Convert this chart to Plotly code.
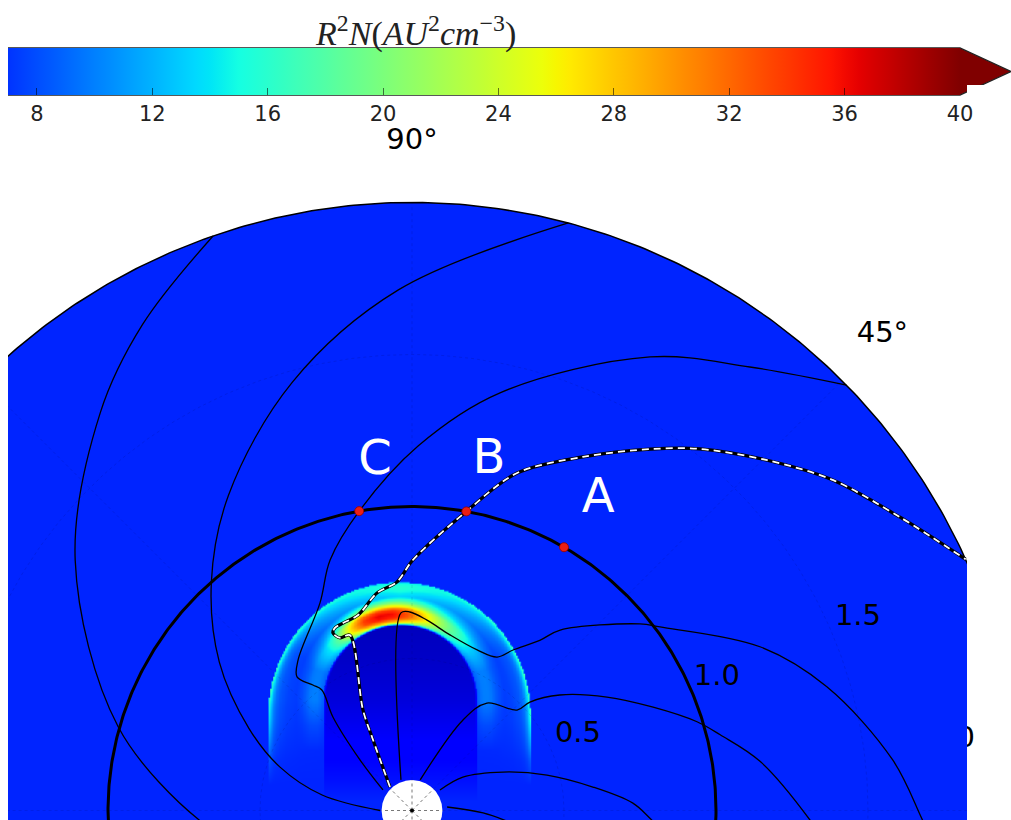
import numpy as np
import plotly.graph_objects as go

# ------------------------------------------------------------------ data
JET_VMAX = 40.0                      # jet colour map spans 0 .. 40
CB_RANGE = [7, 40]                   # visible part of the colour bar
CB_TICKS = [8, 12, 16, 20, 24, 28, 32, 36, 40]
CB_TITLE = "<i>R</i><sup>2</sup><i>N</i>(<i>AU</i><sup>2</sup><i>cm</i><sup>\u22123</sup>)"

AMBIENT_VALUE = 6.4                  # solar wind level filling the 2 AU disk
R_OUTER = 2.0
R_SUN = 0.1
R_ORBIT = 1.0

# magnetic field lines: heliocentric distance (AU) and longitude (deg)
L1_r   = [0.62, 0.70, 1.005, 1.38, 1.662, 1.828, 2.0]
L1_phi = [187.0, 182.6, 164.1, 143.4, 128.1, 119.0, 109.1]
L2_r   = [0.105, 0.30, 0.457, 0.60, 0.80, 1.0, 1.2, 1.463, 1.713, 2.0]
L2_phi = [180.0, 170.2, 161.8, 153.3, 142.4, 131.3, 120.2, 105.6, 91.5, 75.1]
LC_r   = [0.117, 0.238, 0.403, 0.495, 0.526, 0.58, 0.621, 0.747, 0.867, 1.0, 1.2, 1.404, 1.685, 1.834, 2.0]
LC_phi = [144.7, 135.8, 130.2, 126.8, 128.3, 130.7, 127.1, 113.9, 108.1, 100.0, 89.0, 78.1, 62.3, 52.7, 44.4]
R1_r   = [0.107, 0.651, 0.653, 0.628, 0.591, 0.57, 0.577, 0.624, 0.70, 0.768, 0.969, 1.015, 1.265, 1.424, 1.59, 1.68, 1.76]
R1_phi = [109.8, 93.2, 90.6, 85.5, 77.8, 67.9, 61.0, 57.8, 53.1, 50.6, 39.3, 36.5, 25.2, 16.6, 6.0, -1.1, -6.0]
R2_r   = [0.104, 0.342, 0.431, 0.478, 0.527, 0.617, 0.742, 0.863, 0.982, 1.044, 1.157, 1.31, 1.42]
R2_phi = [75.0, 60.6, 55.1, 43.7, 42.6, 38.0, 30.2, 23.2, 17.3, 13.8, 8.0, -1.4, -7.5]
R3_r   = [0.114, 0.20, 0.325, 0.459, 0.60, 0.727, 0.79, 0.90]
R3_phi = [36.2, 33.3, 22.9, 14.7, 7.4, 1.9, -2.3, -8.0]
R4_r   = [0.116, 0.234, 0.35]
R4_phi = [5.7, -2.0, -8.0]
SOLID_LINES = [(L1_r, L1_phi), (L2_r, L2_phi), (LC_r, LC_phi), (R1_r, R1_phi),
               (R2_r, R2_phi), (R3_r, R3_phi), (R4_r, R4_phi)]

# field line through B (white/black dashed)
LB_r   = [0.106, 0.265, 0.368, 0.612, 0.615, 0.639, 0.652, 0.657, 0.667, 0.725, 0.753, 0.824,
          1.0, 1.163, 1.292, 1.424, 1.52, 1.641, 1.761, 1.873, 2.0]
LB_phi = [133.1, 118.9, 116.0, 109.5, 112.6, 114.0, 112.9, 110.2, 105.4, 99.1, 93.8, 89.8,
          79.7, 72.7, 64.2, 56.6, 51.5, 44.6, 38.1, 31.0, 24.4]

# observers on the 1 AU circle
OBS_names = ["A", "B", "C"]
OBS_r     = [1.0, 1.0, 1.0]
OBS_phi   = [60.0, 79.7, 100.0]
OBS_lab_x = [0.612, 0.253, -0.122]
OBS_lab_y = [1.021, 1.150, 1.146]

# CME density structure (distances in AU, values in AU^2 cm^-3)
CME_SHELL_C, CME_SHELL_R = (-0.0428, 0.3207), 0.431        # outer front (dome + legs)
CME_CAV_C, CME_CAV_R = (-0.0395, 0.3635), 0.253            # rarefied cavity
SHELL_FLANK_D = [0.0, 0.006, 0.013, 0.022, 0.035, 0.06, 0.11, 0.20]
SHELL_FLANK_V = [17.5, 14.5, 11.5, 9.5, 8.4, 7.6, 7.1, 6.9]
SHELL_TOP_D   = [0.0, 0.008, 0.020, 0.035, 0.055, 0.09]
SHELL_TOP_V   = [13.5, 15.5, 16.0, 14.5, 12.5, 10.0]
TOP_WEIGHT_ANG = [0, 35, 60]           # deg from apex
TOP_WEIGHT     = [1.0, 0.5, 0.0]
LEG_FADE_Y = [0.084, 0.166, 0.232, 0.298, 0.3635]
LEG_FADE   = [0.0, 0.2, 0.5, 0.8, 1.0]
RING_FADE_Y = [0.199, 0.281, 0.3635]
RING_FADE   = [0.0, 0.35, 1.0]
CAV_Y = [0.0345, 0.100, 0.232, 0.3635, 0.495, 0.617]
CAV_V = [6.4, 5.6, 4.4, 3.2, 2.5, 2.1]
NOSE_E   = [-0.0066, 0.0, 0.0099, 0.0197, 0.0329, 0.046, 0.0559, 0.0691, 0.0888]
NOSE_REL = [0.0, 0.55, 0.8, 0.97, 1.0, 0.9, 0.65, 0.35, 0.0]
NOSE_ANG  = [-90, -70, -55, -45, -35, -25, -15, -5, 5, 15, 25, 35, 45, 55, 70, 90]
NOSE_PEAK = [10.0, 10.0, 14, 19, 27, 34, 36.5, 36, 33, 28, 23, 19, 16, 13, 10.0, 10.0]
CME_BOX_X = [-0.52, 0.44]
CME_BOX_Y = [0.03, 0.79]

# axis annotations
ANG_lab   = ["90\u00b0", "45\u00b0"]
ANG_r     = [2.2, 2.2]
ANG_phi   = [90.0, 45.3]
RAD_lab   = ["0.5", "1.0", "1.5"]
RAD_x     = [0.546, 1.003, 1.467]
RAD_y     = [0.248, 0.436, 0.633]
RAD2_lab, RAD2_x, RAD2_y = "2.0", 1.776, 0.232
GRID_R    = [0.5, 1.0, 1.5]
GRID_PHI  = [0, 45, 90, 135, 180]
SUN_GRID_PHI = [0, 45, 90, 135, 180, 225, 270, 315]

# ------------------------------------------------------------------ helpers
PX = 304.0
JET_R = ([0, 0.35, 0.66, 0.89, 1], [0, 0, 1, 1, 0.5])
JET_G = ([0, 0.125, 0.375, 0.64, 0.91, 1], [0, 0, 1, 1, 0, 0])
JET_B = ([0, 0.11, 0.34, 0.65, 1], [0.5, 1, 1, 0, 0])


def jet(f):
    f = float(np.clip(f, 0, 1))
    r = np.interp(f, *JET_R)
    g = np.interp(f, *JET_G)
    b = np.interp(f, *JET_B)
    return "rgb(%d,%d,%d)" % (round(r * 255), round(g * 255), round(b * 255))


def vcol(v):
    return jet(v / JET_VMAX)


JET_STOPS = sorted(set(JET_R[0] + JET_G[0] + JET_B[0]))
JET_SCALE = [[s, jet(s)] for s in JET_STOPS]


def pol(r, phi):
    r = np.asarray(r, float)
    p = np.radians(np.asarray(phi, float))
    return r * np.cos(p), r * np.sin(p)


def circle(R, cx=0.0, cy=0.0, n=721):
    t = np.linspace(0, 2 * np.pi, n)
    return cx + R * np.cos(t), cy + R * np.sin(t)


def dome_metrics(X, Y, c, R):
    """signed depth inside a dome-with-legs and angle from apex (deg)"""
    dxx = X - c[0]
    dyy = Y - c[1]
    above = dyy >= 0
    dist = np.where(above, np.hypot(dxx, dyy), np.abs(dxx))
    ang = np.where(above, np.degrees(np.arctan2(dxx, np.maximum(dyy, 1e-9))), np.sign(dxx) * 90.0)
    return R - dist, ang


def cme_field():
    step = 1.5 / PX
    xs = np.arange(CME_BOX_X[0], CME_BOX_X[1] + step / 2, step)
    ys = np.arange(CME_BOX_Y[0], CME_BOX_Y[1] + step / 2, step)
    X, Y = np.meshgrid(xs, ys)
    z = np.full(X.shape, AMBIENT_VALUE)

    d_out, a_out = dome_metrics(X, Y, CME_SHELL_C, CME_SHELL_R)
    fade = np.interp(Y, LEG_FADE_Y, LEG_FADE)
    wt = np.interp(np.abs(a_out), TOP_WEIGHT_ANG, TOP_WEIGHT)
    flank = np.interp(d_out, SHELL_FLANK_D, SHELL_FLANK_V)
    top = np.interp(d_out, SHELL_TOP_D, SHELL_TOP_V)
    shell = wt * top + (1 - wt) * flank
    shell = AMBIENT_VALUE + (shell - AMBIENT_VALUE) * fade
    inside = d_out >= 0
    z = np.where(inside, shell, z)

    d_cav, a_cav = dome_metrics(X, Y, CME_CAV_C, CME_CAV_R)
    cav = np.interp(Y, CAV_Y, CAV_V)
    in_cav = d_cav >= 0
    z = np.where(in_cav & inside, cav, z)

    e = -d_cav
    rel = np.interp(e, NOSE_E, NOSE_REL, left=0.0, right=0.0)
    peak = np.interp(a_cav, NOSE_ANG, NOSE_PEAK)
    rfade = np.interp(Y, RING_FADE_Y, RING_FADE)
    nose = z + (peak - z) * rel * rfade
    z = np.where(inside, np.maximum(z, nose), z)
    return xs, ys, z


FONT = "DejaVu Sans"
fig = go.Figure()

# ---- base subplot (x, y): radial label partly hidden, then the 2 AU disk
fig.add_trace(go.Scatter(x=[RAD2_x], y=[RAD2_y], mode="text", text=[RAD2_lab],
                         textfont=dict(family=FONT, size=29, color="black"),
                         cliponaxis=False, hoverinfo="skip"))
dx, dy = circle(R_OUTER)
fig.add_trace(go.Scatter(x=dx, y=dy, mode="lines", fill="toself", fillcolor=vcol(AMBIENT_VALUE),
                         line=dict(color="black", width=1.5), hoverinfo="skip"))

# ---- overlay subplot (x2, y2): everything drawn on top of the disk
OV = dict(xaxis="x2", yaxis="y2")

# CME density
hx, hy, hz = cme_field()
fig.add_trace(go.Heatmap(x=hx, y=hy, z=np.round(hz, 2), zmin=0, zmax=JET_VMAX, colorscale=JET_SCALE,
                         zsmooth="best", showscale=False, hoverinfo="skip", **OV))

# faint polar grid
for R in GRID_R:
    gx, gy = circle(R)
    fig.add_trace(go.Scatter(x=gx, y=gy, mode="lines", hoverinfo="skip",
                             line=dict(color="rgba(0,0,60,0.12)", width=1, dash="dot"), **OV))
for ph in GRID_PHI:
    gx, gy = pol([R_SUN, R_OUTER], [ph, ph])
    fig.add_trace(go.Scatter(x=gx, y=gy, mode="lines", hoverinfo="skip",
                             line=dict(color="rgba(0,0,60,0.12)", width=1, dash="dot"), **OV))

# solid field lines
for r, ph in SOLID_LINES:
    lx, ly = pol(r, ph)
    fig.add_trace(go.Scatter(x=lx, y=ly, mode="lines", hoverinfo="skip",
                             line=dict(color="black", width=1.3, shape="spline", smoothing=1.0), **OV))

# 1 AU circle
ox, oy = circle(R_ORBIT)
fig.add_trace(go.Scatter(x=ox, y=oy, mode="lines", hoverinfo="skip",
                         line=dict(color="black", width=3), **OV))

# dashed field line through B
bx, by = pol(LB_r, LB_phi)
fig.add_trace(go.Scatter(x=bx, y=by, mode="lines", hoverinfo="skip",
                         line=dict(color="black", width=3.2, shape="spline", smoothing=0.9), **OV))
fig.add_trace(go.Scatter(x=bx, y=by, mode="lines", hoverinfo="skip",
                         line=dict(color="white", width=1.8, dash="7px,5px", shape="spline", smoothing=0.9), **OV))

# observers
px_, py_ = pol(OBS_r, OBS_phi)
fig.add_trace(go.Scatter(x=px_, y=py_, mode="markers", hoverinfo="skip",
                         marker=dict(size=9, color="rgb(235,30,20)", line=dict(color="rgb(150,0,0)", width=0.8)), **OV))
fig.add_trace(go.Scatter(x=OBS_lab_x, y=OBS_lab_y, mode="text", text=OBS_names, hoverinfo="skip",
                         textfont=dict(family=FONT, size=48, color="white"), **OV))

# Sun
sx, sy = circle(R_SUN)
fig.add_trace(go.Scatter(x=sx, y=sy, mode="lines", fill="toself", fillcolor="white",
                         line=dict(width=0), hoverinfo="skip", **OV))
for ph in SUN_GRID_PHI:
    gx, gy = pol([0, R_SUN], [ph, ph])
    fig.add_trace(go.Scatter(x=gx, y=gy, mode="lines", hoverinfo="skip",
                             line=dict(color="rgb(120,120,120)", width=1, dash="dot"), **OV))
fig.add_trace(go.Scatter(x=[0], y=[0], mode="markers", hoverinfo="skip",
                         marker=dict(size=4, color="black"), **OV))

# axis labels
ax_, ay_ = pol(ANG_r, ANG_phi)
fig.add_trace(go.Scatter(x=ax_, y=ay_, mode="text", text=ANG_lab, hoverinfo="skip", cliponaxis=False,
                         textfont=dict(family=FONT, size=29, color="black"), **OV))
fig.add_trace(go.Scatter(x=RAD_x, y=RAD_y, mode="text", text=RAD_lab, hoverinfo="skip",
                         textfont=dict(family=FONT, size=29, color="black"), **OV))

# colour bar carrier (outside the visible range)
cb_scale = [[p, jet((CB_RANGE[0] + p * (CB_RANGE[1] - CB_RANGE[0])) / JET_VMAX)]
            for p in np.linspace(0, 1, 67)]
fig.add_trace(go.Scatter(
    x=[50, 50], y=[50, 50], mode="markers", hoverinfo="skip",
    marker=dict(color=CB_RANGE, cmin=CB_RANGE[0], cmax=CB_RANGE[1], colorscale=cb_scale,
                showscale=True,
                colorbar=dict(orientation="h", x=8 / 1011, xanchor="left", y=1 - 48 / 820, yanchor="top",
                              lenmode="pixels", len=952, thicknessmode="pixels", thickness=47,
                              xpad=0, ypad=0, outlinewidth=0,
                              tickvals=CB_TICKS, ticks="inside", ticklen=7, tickcolor="rgba(0,0,0,0.55)",
                              tickfont=dict(family=FONT, size=21, color="#222"))), **OV))

W, H = 1011, 820


def pp(x, y):
    return "%f,%f" % (x / W, 1 - y / H)


XR = [(8 - 412) / PX, (967 - 412) / PX]
YR = [(810.5 - 820) / PX, 810.5 / PX]
XD = [8 / W, 967 / W]

fig.update_layout(
    width=W, height=H, margin=dict(l=0, r=0, t=0, b=0, autoexpand=False),
    paper_bgcolor="white", plot_bgcolor="white", showlegend=False,
    xaxis=dict(domain=XD, range=XR, visible=False),
    yaxis=dict(domain=[0, 1], range=YR, visible=False),
    xaxis2=dict(domain=XD, range=XR, visible=False, overlaying="x", anchor="y2"),
    yaxis2=dict(domain=[0, 1], range=YR, visible=False, overlaying="y", anchor="x2"),
    annotations=[dict(xref="paper", yref="paper", x=415 / W, y=1 - 31 / H, yanchor="middle",
                      text=CB_TITLE, showarrow=False,
                      font=dict(family="Liberation Serif", size=34, color="#222"))],
    shapes=[
        dict(type="path", xref="paper", yref="paper", layer="above",
             path="M %s L %s L %s Z" % (pp(960, 48), pp(1011, 71.5), pp(960, 95)),
             fillcolor=jet(1.0), line=dict(width=0)),
        dict(type="path", xref="paper", yref="paper", layer="above",
             path="M %s L %s L %s L %s L %s" % (pp(8, 48), pp(960, 48), pp(1011, 71.5), pp(960, 95), pp(8, 95)),
             line=dict(color="#222", width=1.3)),
        dict(type="rect", xref="paper", yref="paper", layer="above",
             x0=967 / W, x1=1.0, y0=1 - 98 / H, y1=1 - 85 / H, fillcolor="white", line=dict(width=0)),
    ],
)

fig.write_html("out.html")
